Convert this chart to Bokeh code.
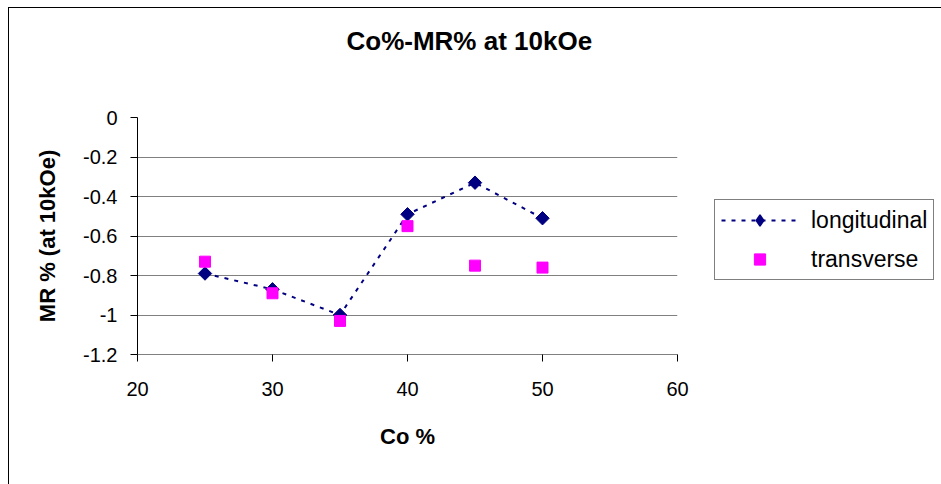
import math
from bokeh.plotting import figure
from bokeh.models import Range1d, FixedTicker, Legend, LegendItem, ColumnDataSource, Title
from bokeh.embed import file_html
from bokeh.resources import INLINE

# ---- data ----
co_percent = [25, 30, 35, 40, 45, 50]
mr_longitudinal = [-0.79, -0.87, -1.00, -0.49, -0.33, -0.51]
mr_transverse = [-0.73, -0.89, -1.03, -0.55, -0.75, -0.76]
x_ticks = [20, 30, 40, 50, 60]
y_ticks = [0, -0.2, -0.4, -0.6, -0.8, -1.0, -1.2]
y_tick_labels = ["0", "-0.2", "-0.4", "-0.6", "-0.8", "-1", "-1.2"]
title_text = "Co%-MR% at 10kOe"
x_label = "Co %"
y_label = "MR % (at 10kOe)"
series_names = ["longitudinal", "transverse"]

FONT = "Liberation Sans"
OX, OY = 8, 7  # offset of the chart-area border in the window

p = figure(frame_width=540, frame_height=237, output_backend="svg", toolbar_location=None,
           x_range=Range1d(20, 60), y_range=Range1d(-1.2, 0),
           min_border_left=137 - OX - 1, min_border_right=265,
           min_border_top=117 - OY - 1, min_border_bottom=132)
p.margin = (OY, 0, 0, OX)
p.styles = {"border-left": "1px solid #000000", "border-top": "1px solid #000000"}
p.outline_line_color = None
p.background_fill_color = "white"
p.border_fill_color = "white"

# title (outermost in the top panel)
p.title.text = title_text
p.title.text_font = FONT
p.title.text_font_size = "26px"
p.title.text_font_style = "bold"
p.title.text_color = "black"
p.title.align = "left"
p.title.vertical_align = "bottom"
p.title.offset = 209
p.title.standoff = 0
# blank spacer between the title and the plot frame
p.add_layout(Title(text=" ", text_font_size="1px", standoff=59), "above")

# grid
p.xgrid.grid_line_color = None
p.ygrid.grid_line_color = "#808080"
p.ygrid.grid_line_width = 1
p.ygrid.ticker = FixedTicker(ticks=y_ticks)

# axes
p.xaxis.ticker = FixedTicker(ticks=x_ticks)
p.yaxis.ticker = FixedTicker(ticks=y_ticks)
p.yaxis.major_label_overrides = {t: l for t, l in zip(y_ticks, y_tick_labels)}
for ax in (p.xaxis[0], p.yaxis[0]):
    ax.major_label_text_font = FONT
    ax.major_label_text_font_size = "20px"
    ax.major_label_text_color = "black"
    ax.axis_label_text_font = FONT
    ax.axis_label_text_font_size = "22px"
    ax.axis_label_text_font_style = "bold"
    ax.axis_label_text_color = "black"
    ax.major_tick_in = 0
    ax.major_tick_out = 7
    ax.minor_tick_in = 0
    ax.minor_tick_out = 0
    ax.major_tick_line_color = "black"
p.xaxis.axis_label = x_label
p.yaxis.axis_label = y_label
p.xaxis.axis_line_color = "#808080"
p.yaxis.axis_line_color = "black"
p.xaxis.major_label_standoff = 20
p.yaxis.major_label_standoff = 13
p.xaxis.axis_label_standoff = 25
p.yaxis.axis_label_standoff = 20

# series
src_l = ColumnDataSource(dict(x=co_percent, y=mr_longitudinal))
src_t = ColumnDataSource(dict(x=co_percent, y=mr_transverse))
ln = p.line("x", "y", source=src_l, line_color="#000080", line_width=2, line_dash="4 6")
# legend key for the diamond symbol (the legend does not rotate markers);
# drawn tiny underneath the real markers
dm_key = p.scatter("x", "y", source=src_l, marker="diamond", size=1,
                   fill_color="#000080", line_color="#000080", line_width=1.5)
dm = p.scatter("x", "y", source=src_l, marker="square", angle=math.pi / 4, size=9.5,
               fill_color="#000080", line_color="#000080")
sq = p.scatter("x", "y", source=src_t, marker="square", size=11,
               fill_color="#FF00FF", line_color="#FF00FF")

legend = Legend(items=[LegendItem(label=series_names[0], renderers=[ln, dm_key]),
                       LegendItem(label=series_names[1], renderers=[sq])],
                location=(37, 74), orientation="vertical")
legend.label_text_font = FONT
legend.label_text_font_size = "23px"
legend.label_text_color = "black"
legend.border_line_color = "black"
legend.border_line_width = 1
legend.background_fill_color = "white"
legend.background_fill_alpha = 1
legend.glyph_width = 77
legend.glyph_height = 28
legend.label_height = 28
legend.label_standoff = 13
legend.spacing = 11
legend.padding = 6
legend.margin = 0
p.add_layout(legend, "right")

open("out.html", "w").write(file_html(p, INLINE))
